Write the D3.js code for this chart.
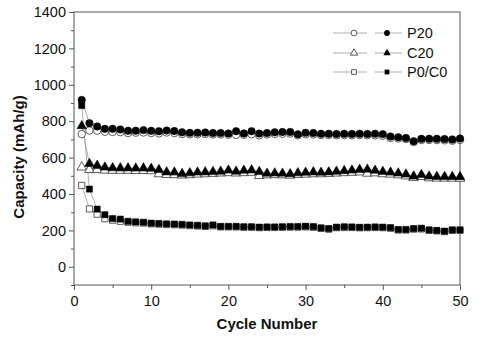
<!DOCTYPE html>
<html><head><meta charset="utf-8">
<script src="https://cdn.jsdelivr.net/npm/d3@7"></script>
<style>body{margin:0;background:#fff}svg{display:block}text{font-family:"Liberation Sans",Arial,sans-serif}</style>
</head><body><svg id="c" width="495" height="338"></svg>
<script>
const cycles = d3.range(1, 51);
const p20Filled = [917,789,771,758,758,755,747,748,751,747,745,749,746,739,736,737,738,735,735,733,745,733,745,732,735,739,741,741,728,736,735,731,731,730,731,730,731,730,731,729,716,712,708,690,703,704,703,702,700,705];
const p20Open = [729,749,748,742,741,740,735,737,738,735,733,738,735,730,728,728,730,727,727,726,725,726,728,722,727,730,731,732,722,728,727,724,724,723,724,723,724,723,722,720,708,705,702,686,697,697,696,695,693,697];
const c20Filled = [774,566,556,547,543,542,542,541,542,540,533,520,519,511,515,519,520,522,524,530,524,529,531,522,513,514,513,510,515,518,520,518,520,524,527,530,534,535,529,523,519,514,508,497,506,497,495,495,495,494];
const c20Open = [547,533,533,530,529,529,529,528,528,527,510,506,505,503,505,508,510,512,514,516,514,516,518,500,504,505,504,502,506,508,510,510,511,514,516,518,520,513,515,510,508,504,498,490,495,488,486,486,486,485];
const p0Filled = [886,427,317,286,265,262,250,247,245,240,238,236,235,233,230,228,225,230,222,222,222,220,220,218,219,219,220,221,221,223,221,214,210,218,220,219,217,218,219,218,215,205,205,210,212,203,200,196,203,203];
const p0Open = [447,318,289,264,256,250,245,242,240,236,234,232,231,229,226,224,222,225,219,219,219,217,217,215,216,216,217,218,218,219,217,211,207,215,216,216,214,215,216,215,212,202,202,207,208,200,197,193,200,200];
const seriesNames = ["P20", "C20", "P0/C0"];
const xTicks = [0,10,20,30,40,50];
const yTicks = [0,200,400,600,800,1000,1200,1400];

const svg = d3.select("#c");
const L = 74, R = 460, T = 12, B = 285;
const x = d3.scaleLinear().domain([0,50]).range([L,R]);
const y = d3.scaleLinear().domain([-100,1400]).range([B,T]);
const axisCol = "#555";

// frame
svg.append("rect").attr("x",L).attr("y",T).attr("width",R-L).attr("height",B-T)
  .attr("fill","none").attr("stroke",axisCol).attr("stroke-width",1);

// axes
const gx = svg.append("g").attr("transform",`translate(0,${B})`)
  .call(d3.axisBottom(x).tickValues(xTicks).tickSize(5).tickPadding(6).tickFormat(d3.format("d")));
const gxm = svg.append("g").attr("transform",`translate(0,${B})`)
  .call(d3.axisBottom(x).tickValues([5,15,25,35,45]).tickSize(3).tickFormat(""));
const gy = svg.append("g").attr("transform",`translate(${L},0)`)
  .call(d3.axisLeft(y).tickValues(yTicks).tickSize(5).tickPadding(3).tickFormat(d3.format("d")));
const gym = svg.append("g").attr("transform",`translate(${L},0)`)
  .call(d3.axisLeft(y).tickValues([-100,100,300,500,700,900,1100,1300]).tickSize(3).tickFormat(""));
[gx,gxm,gy,gym].forEach(g=>{
  g.select(".domain").remove();
  g.selectAll("line").attr("stroke",axisCol);
  g.selectAll("text").attr("fill","#111").style("font-size","14.5px").style("font-family","'Liberation Sans',Arial,sans-serif");
});

svg.append("text").attr("x",(L+R)/2).attr("y",329).attr("text-anchor","middle")
  .style("font-size","15px").style("font-weight","bold").attr("fill","#111").text("Cycle Number");
svg.append("text").attr("transform","translate(24,157) rotate(-90)").attr("text-anchor","middle")
  .style("font-size","15px").style("font-weight","bold").attr("fill","#111").text("Capacity (mAh/g)");

const lineGen = d3.line().x((d,i)=>x(cycles[i])).y(d=>y(d));
const sets = [
  {open:p20Open, filled:p20Filled, sym:d3.symbolCircle, size:44},
  {open:c20Open, filled:c20Filled, sym:d3.symbolTriangle, size:40},
  {open:p0Open, filled:p0Filled, sym:d3.symbolSquare, size:38}
];
const plot = svg.append("g");
sets.forEach(s=>{
  plot.append("path").datum(s.open).attr("d",lineGen).attr("fill","none").attr("stroke","#999").attr("stroke-width",0.8);
  plot.append("path").datum(s.filled).attr("d",lineGen).attr("fill","none").attr("stroke","#999").attr("stroke-width",0.8);
});
sets.forEach(s=>{
  const sym = d3.symbol().type(s.sym).size(s.size);
  plot.selectAll(null).data(s.open).enter().append("path")
    .attr("d",sym).attr("transform",(d,i)=>`translate(${x(cycles[i])},${y(d)})`)
    .attr("fill","#fff").attr("stroke","#333").attr("stroke-width",0.8);
});
sets.forEach(s=>{
  const sym = d3.symbol().type(s.sym).size(s.size);
  plot.selectAll(null).data(s.filled).enter().append("path")
    .attr("d",sym).attr("transform",(d,i)=>`translate(${x(cycles[i])},${y(d)})`)
    .attr("fill","#000").attr("stroke","#000").attr("stroke-width",0.5);
});

// legend
const lg = svg.append("g");
const legY = [33,53,72];
sets.forEach((s,i)=>{
  const yy = legY[i];
  lg.append("line").attr("x1",333).attr("x2",367).attr("y1",yy).attr("y2",yy).attr("stroke","#999").attr("stroke-width",0.8);
  lg.append("line").attr("x1",375).attr("x2",402).attr("y1",yy).attr("y2",yy).attr("stroke","#999").attr("stroke-width",0.8);
  lg.append("path").attr("d",d3.symbol().type(s.sym).size(s.size*0.6)()).attr("transform",`translate(354,${yy})`)
    .attr("fill","#fff").attr("stroke","#333").attr("stroke-width",0.8);
  lg.append("path").attr("d",d3.symbol().type(s.sym).size(s.size*0.6)()).attr("transform",`translate(387,${yy})`)
    .attr("fill","#000");
  lg.append("text").attr("x",407).attr("y",yy+5).style("font-size","14.5px").attr("fill","#111").text(seriesNames[i]);
});
</script></body></html>
